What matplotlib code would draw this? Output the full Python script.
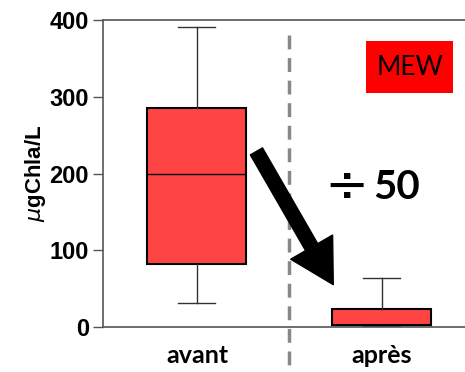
import matplotlib.pyplot as plt
from matplotlib.patches import Rectangle

labels = ['avant', 'après']
q1 = [82, 3]
med = [200, 3]
q3 = [285, 23]
whislo = [31, 1]
whishi = [391, 64]

stats = []
for i in range(len(labels)):
    stats.append({'label': labels[i], 'q1': q1[i], 'med': med[i], 'q3': q3[i],
                  'whislo': whislo[i], 'whishi': whishi[i], 'fliers': []})

fig = plt.figure(figsize=(4.65, 3.72), dpi=100)
ax = fig.add_axes([0.2215, 0.121, 0.7785, 0.825])

ax.bxp(stats, positions=[1, 2], widths=0.535, patch_artist=True, showfliers=False,
       boxprops=dict(facecolor='#ff4444', edgecolor='black', linewidth=1.5),
       medianprops=dict(color='black', linewidth=1),
       whiskerprops=dict(color='#333333', linewidth=1),
       capprops=dict(color='#333333', linewidth=1), capwidths=0.2)

ax.set_xlim(0.492, 2.449)
ax.set_ylim(0, 400)
ax.set_yticks([0, 100, 200, 300, 400])
ax.set_xticks([1, 2])
ax.set_xticklabels(labels, fontfamily='Lato', fontweight='bold', fontsize=18)
ax.tick_params(axis='x', length=0, pad=12)
ax.tick_params(axis='y', length=7, width=1, color='#555555', labelsize=17, pad=3)
for t in ax.get_yticklabels():
    t.set_fontfamily('Liberation Sans')
    t.set_fontweight('bold')
ax.set_ylabel('$\\mu$gChla/L', fontfamily='Liberation Sans', fontweight='bold',
              fontsize=16, labelpad=1)

ax.spines['right'].set_visible(False)
for s in ['left', 'top', 'bottom']:
    ax.spines[s].set_color('#555555')
    ax.spines[s].set_linewidth(1.2)

# dashed separator, runs below the axis
ax.plot([1.5, 1.5], [380, -120], color='#888888', linewidth=2.5,
        linestyle=(0, (4, 2.5)), clip_on=False, zorder=1)

# MEW label box
ax.add_patch(Rectangle((0.727, 0.763), 0.24, 0.168, transform=ax.transAxes,
                       facecolor='#ff0000', edgecolor='none', zorder=3))
ax.text(0.847, 0.845, 'MEW', transform=ax.transAxes, ha='center', va='center',
        fontfamily='Lato', fontsize=19, color='black', zorder=4)

# divide by 50 annotation
ax.text(0.673, 0.455, '÷', transform=ax.transAxes, ha='center', va='center',
        fontfamily='DejaVu Sans', fontsize=38, color='black')
ax.text(0.81, 0.453, '50', transform=ax.transAxes, ha='center', va='center',
        fontfamily='Lato', fontweight='bold', fontsize=29, color='black')

ax.annotate('', xy=(0.64, 0.13), xytext=(0.42, 0.58), xycoords='axes fraction',
            arrowprops=dict(arrowstyle='simple,head_length=1.3,head_width=1.45,tail_width=0.42',
                            color='black', mutation_scale=24))

fig.savefig('out.png', dpi=100)
